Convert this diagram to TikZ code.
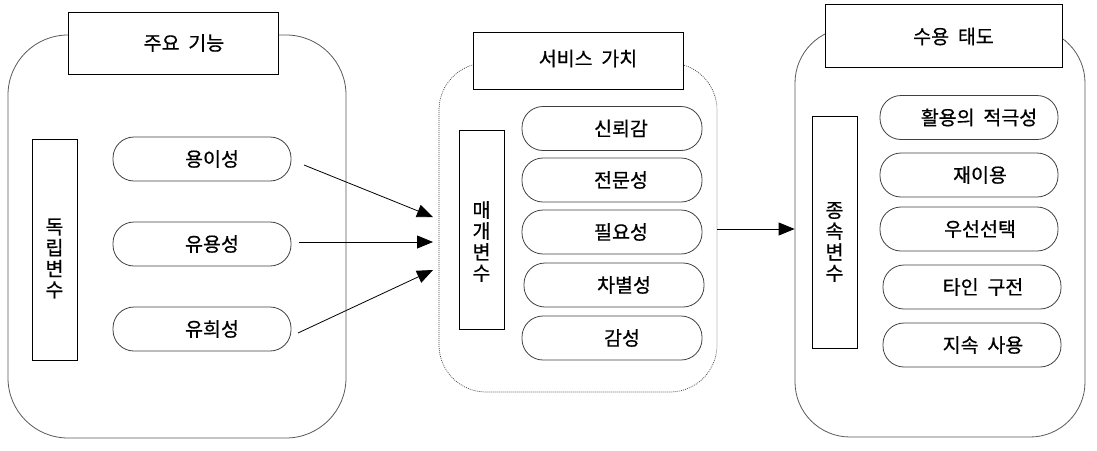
\documentclass[tikz,border=0pt]{standalone}
\usepackage{fontspec}
\setmainfont[WordSpace=2.0,FakeBold=0.6]{Noto Sans CJK KR}
\usetikzlibrary{arrows.meta}
\begin{document}
\begin{tikzpicture}[x=1pt,y=-1pt,
  font=\fontsize{19.5}{21}\selectfont,
  outer/.style={draw=black!65,line width=0.8pt,rounded corners=#1,inner sep=0pt},
  titlebox/.style={draw=black,line width=0.9pt,fill=white,inner sep=0pt},
  pill/.style={draw=black!75,line width=0.8pt,rounded corners=21pt,minimum height=44pt,inner sep=0pt},
  varbox/.style={draw=black,line width=0.9pt,minimum width=45pt,inner sep=0pt},
  conn/.style={line width=0.8pt,-{Triangle[length=16pt,width=13pt]}}]
\useasboundingbox (0,0) rectangle (1097,450);

% outer groups
\node[outer=60pt,minimum width=338pt,minimum height=403pt] (g1) at (177,236.5) {};
\node[outer=47pt,draw=black!75,line width=0.7pt,dash pattern=on 0.9pt off 1.1pt,minimum width=278pt,minimum height=329pt] (g2) at (578,227.5) {};
\node[outer=55pt,minimum width=290pt,minimum height=409pt] (g3) at (940,232.5) {};

% title boxes
\node[titlebox,minimum width=210pt,minimum height=62pt,label={[xshift=11pt]center:주요 기능}] (t1) at (173,43) {};
\node[titlebox,minimum width=210pt,minimum height=57pt,label={[xshift=10pt,yshift=2pt]center:서비스 가치}] (t2) at (578,60.5) {};
\node[titlebox,minimum width=237pt,minimum height=63pt,label={[xshift=10pt,yshift=-1pt]center:수용 태도}] (t3) at (943.5,35.5) {};

% variable boxes
\node[varbox,minimum height=221pt,label={[align=center,yshift=-9pt]center:독\\립\\변\\수}] (v1) at (54.5,249.5) {};
\node[varbox,minimum height=199pt,label={[align=center,yshift=-12pt]center:매\\개\\변\\수}] (v2) at (481.5,229.5) {};
\node[varbox,minimum height=232pt,label={[align=center,yshift=-10pt]center:종\\속\\변\\수}] (v3) at (834.5,232) {};

% left pills
\node[pill,minimum width=178pt,label={[xshift=10pt]center:용이성}] (p1) at (202,159) {};
\node[pill,minimum width=178pt,label={[xshift=10pt]center:유용성}] (p2) at (202,244) {};
\node[pill,minimum width=178pt,label={[xshift=10pt]center:유희성}] (p3) at (202,329) {};

% middle pills
\node[pill,minimum width=180pt,label={[xshift=9pt]center:신뢰감}] (m1) at (612,128.5) {};
\node[pill,minimum width=180pt,label={[xshift=9pt]center:전문성}] (m2) at (612,180) {};
\node[pill,minimum width=180pt,label={[xshift=9pt]center:필요성}] (m3) at (612,232) {};
\node[pill,minimum width=180pt,label={[xshift=10pt]center:차별성}] (m4) at (614,285) {};
\node[pill,minimum width=180pt,label={[xshift=10pt]center:감성}] (m5) at (612,338) {};

% right pills
\node[pill,minimum width=178pt,label={[xshift=10pt]center:활용의 적극성}] (r1) at (969,117.5) {};
\node[pill,minimum width=178pt,label={[xshift=11pt]center:재이용}] (r2) at (969,175) {};
\node[pill,minimum width=178pt,label={[xshift=11pt]center:우선선택}] (r3) at (969,229) {};
\node[pill,minimum width=178pt,label={[xshift=11pt]center:타인 구전}] (r4) at (972,287) {};
\node[pill,minimum width=178pt,label={[xshift=11pt]center:지속 사용}] (r5) at (972,345) {};

% connectors
\coordinate (s1) at (304,165);
\coordinate (s2) at (299,242);
\coordinate (s3) at (298,333);
\coordinate (e1) at (433,217);
\coordinate (e2) at (433,242);
\coordinate (e3) at (433,270);
\draw[conn] (s1) -- (e1);
\draw[conn] (s2) -- (e2);
\draw[conn] (s3) -- (e3);
\coordinate (s4) at (g2.east |- 0,229);
\coordinate (e4) at (g3.west |- 0,229);
\draw[conn] (s4) -- (e4);
\end{tikzpicture}
\end{document}
